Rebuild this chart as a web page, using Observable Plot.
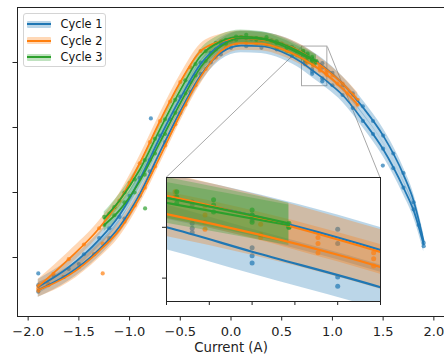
<!DOCTYPE html>
<html><head><meta charset="utf-8">
<script src="https://cdn.jsdelivr.net/npm/d3@7"></script>
<script src="https://cdn.jsdelivr.net/npm/@observablehq/plot@0.6"></script>
<style>
body{margin:0;background:#fff;overflow:hidden;font-family:"DejaVu Sans",sans-serif}
#wrap{position:relative;width:444px;height:357px;overflow:hidden}
#wrap svg{position:absolute;left:0;top:0}
#inset{position:absolute;background:#fff}
#inset svg{position:absolute;left:0;top:0;overflow:visible}
#legend{position:absolute;left:22.5px;top:12.5px;width:83px;height:54px;border:1px solid #d4d4d4;border-radius:3px;background:rgba(255,255,255,0.85);box-sizing:border-box}
.row{position:absolute;left:0;height:14px;width:100%}
.sw{position:absolute;left:3.5px;top:3.5px;width:24px;height:7px;border-radius:1px}
.ln{position:absolute;left:3.5px;top:6px;width:24px;height:2px}
.lab{position:absolute;left:37px;top:0;font-size:11.4px;line-height:14px;color:#111;white-space:nowrap}
</style></head><body><div id="wrap"></div><script>
// ---------- data ----------
const cycles = ["Cycle 1", "Cycle 2", "Cycle 3"];
const colors = ["#1f77b4", "#ff7f0e", "#2ca02c"];
const xTicks = [-2, -1.5, -1, -0.5, 0, 0.5, 1, 1.5, 2];
const yTicks = [3.4, 3.6, 3.8, 4.0];
const xDomain = [-2.105, 2.105];
const yDomain = [3.2185, 4.1692];
const insetXDomain = [0.7, 0.95];
const insetYDomain = [3.927, 4.049];
const insetXTicks = [0.7, 0.75, 0.8, 0.85, 0.9, 0.95];
const insetYTicks = [3.95, 4.0];
const bandHalfWidth = [0.022, 0.022, 0.02];

// fitted curves, two sweeps per cycle: [current, value]
const cycle1Upper = [[-1.9,3.31],[-1.6,3.37],[-1.3,3.455],[-1.1,3.53],[-0.9,3.64],[-0.7,3.77],[-0.5,3.89],[-0.3,3.995],[-0.1,4.055],[0.1,4.075],[0.3,4.072],[0.5,4.058],[0.7,4.03],[0.9,3.99],[1.1,3.935],[1.3,3.862],[1.5,3.775],[1.7,3.655],[1.8,3.575],[1.9,3.45]];
const cycle1Lower = [[-1.9,3.3],[-1.6,3.35],[-1.3,3.425],[-1.1,3.495],[-0.9,3.595],[-0.7,3.725],[-0.5,3.85],[-0.3,3.96],[-0.1,4.03],[0.1,4.052],[0.3,4.05],[0.5,4.033],[0.7,4.0],[0.8,3.976],[0.95,3.941],[1.1,3.9],[1.3,3.822],[1.5,3.733],[1.7,3.615],[1.8,3.545],[1.9,3.44]];
const cycle2Upper = [[-1.9,3.311],[-1.6,3.395],[-1.3,3.49],[-1.1,3.575],[-0.9,3.69],[-0.7,3.82],[-0.5,3.94],[-0.3,4.035],[-0.1,4.065],[0.1,4.075],[0.3,4.07],[0.5,4.058],[0.7,4.031],[0.9,3.988],[1.1,3.935],[1.25,3.885]];
const cycle2Lower = [[-1.9,3.3],[-1.6,3.345],[-1.3,3.42],[-1.1,3.485],[-0.9,3.585],[-0.7,3.71],[-0.5,3.84],[-0.3,3.955],[-0.1,4.035],[0.1,4.06],[0.3,4.058],[0.5,4.042],[0.7,4.013],[0.9,3.973],[1.1,3.92],[1.25,3.87]];
const cycle3Upper = [[-1.25,3.52],[-1.1,3.575],[-0.9,3.67],[-0.7,3.795],[-0.5,3.915],[-0.3,4.02],[-0.1,4.065],[0.1,4.08],[0.3,4.075],[0.5,4.058],[0.7,4.029],[0.843,4.004]];
const cycle3Lower = [[-1.25,3.5],[-1.1,3.545],[-0.9,3.635],[-0.7,3.755],[-0.5,3.875],[-0.3,3.985],[-0.1,4.05],[0.1,4.075],[0.3,4.072],[0.5,4.053],[0.7,4.024],[0.843,4.002]];

// measured points
const cycle1Points = [[-1.9,3.315],[-1.75,3.345],[-1.6,3.365],[-1.45,3.41],[-1.3,3.46],[-1.2,3.49],[-1.1,3.525],[-1.0,3.59],[-0.9,3.645],[-0.8,3.70],[-0.7,3.775],[-0.6,3.825],[-0.5,3.895],[-0.4,3.94],[-0.3,4.0],[-0.2,4.03],[-0.1,4.058],[0.0,4.068],[0.1,4.078],[0.2,4.072],[0.3,4.07],[0.4,4.068],[0.5,4.055],[0.6,4.048],[0.73,4.025],[0.73,4.022],[0.8,4.012],[0.8,4.007],[0.9,3.998],[0.9,3.984],[1.0,3.968],[1.1,3.93],[1.2,3.905],[1.3,3.865],[1.4,3.82],[1.5,3.775],[1.6,3.72],[1.7,3.66],[1.8,3.57],[1.9,3.445],
 [-1.9,3.295],[-1.8,3.318],[-1.65,3.34],[-1.5,3.38],[-1.35,3.41],[-1.2,3.46],[-1.05,3.52],[-0.9,3.59],[-0.8,3.665],[-0.65,3.755],[-0.5,3.845],[-0.4,3.91],[-0.3,3.965],[-0.2,4.0],[-0.1,4.025],[0.0,4.045],[0.15,4.05],[0.3,4.045],[0.45,4.04],[0.6,4.02],[0.73,4.004],[0.73,3.995],[0.73,3.999],[0.8,3.98],[0.8,3.965],[0.8,3.972],[0.9,3.951],[0.9,3.942],[1.0,3.93],[1.1,3.9],[1.2,3.86],[1.3,3.82],[1.4,3.78],[1.5,3.735],[1.6,3.675],[1.7,3.615],[1.8,3.548],[1.85,3.5],[1.9,3.435],
 [-1.9,3.351],[-0.79,3.828],[1.497,3.683]];
const cycle2Points = [[-1.9,3.312],[-1.9,3.305],[-1.75,3.35],[-1.6,3.395],[-1.45,3.44],[-1.3,3.49],[-1.2,3.535],[-1.1,3.575],[-1.0,3.63],[-0.9,3.69],[-0.8,3.755],[-0.7,3.82],[-0.6,3.88],[-0.5,3.94],[-0.4,3.985],[-0.3,4.035],[-0.2,4.05],[-0.1,4.065],[0.0,4.07],[0.1,4.078],[0.2,4.075],[0.3,4.07],[0.4,4.065],[0.5,4.058],[0.6,4.045],[0.71,4.03],[0.71,4.035],[0.745,4.021],[0.745,4.012],[0.81,4.003],[0.81,3.99],[0.877,3.99],[0.877,3.984],[0.942,3.975],[0.942,3.969],[1.0,3.96],[1.1,3.935],[1.2,3.9],[1.25,3.885],
 [-1.9,3.298],[-1.8,3.315],[-1.65,3.34],[-1.5,3.37],[-1.35,3.41],[-1.2,3.455],[-1.05,3.51],[-0.95,3.56],[-0.85,3.615],[-0.75,3.68],[-0.65,3.745],[-0.55,3.81],[-0.45,3.87],[-0.35,3.93],[-0.25,3.98],[-0.15,4.015],[-0.05,4.045],[0.05,4.055],[0.15,4.06],[0.25,4.058],[0.35,4.054],[0.45,4.046],[0.55,4.035],[0.65,4.022],[0.745,4.005],[0.745,3.998],[0.81,3.993],[0.877,3.975],[0.942,3.962],[1.05,3.935],[1.15,3.905],[1.25,3.87],
 [-1.265,3.443],[-1.265,3.351]];
const cycle3Points = [[-1.25,3.525],[-1.15,3.555],[-1.05,3.6],[-0.95,3.64],[-0.85,3.7],[-0.75,3.765],[-0.65,3.825],[-0.55,3.885],[-0.45,3.945],[-0.35,3.995],[-0.25,4.035],[-0.15,4.06],[-0.05,4.07],[0.05,4.08],[0.15,4.085],[0.25,4.075],[0.35,4.078],[0.45,4.065],[0.55,4.05],[0.62,4.042],[0.712,4.03],[0.712,4.035],[0.755,4.027],[0.755,4.022],[0.8,4.017],[0.8,4.012],[0.8,4.005],[0.843,4.004],[0.843,4.0],
 [-1.25,3.5],[-1.15,3.53],[-1.05,3.57],[-0.95,3.6],[-0.85,3.655],[-0.75,3.72],[-0.65,3.78],[-0.55,3.845],[-0.45,3.905],[-0.35,3.96],[-0.25,4.005],[-0.15,4.04],[-0.05,4.058],[0.05,4.07],[0.15,4.075],[0.25,4.07],[0.35,4.07],[0.45,4.06],[0.55,4.045],[0.65,4.035],[0.712,4.024],[0.755,4.015],[0.8,4.01],[0.843,4.0],
 [-0.847,3.551]];

const xLabel = "Current (A)";

// ---------- layout ----------
const W = 444, H = 357;
const mL = 17, mT = 7, mR = 0, mB = 41;
const inset = {left: 165.5, top: 177, width: 214, height: 124};
const bandOpacity = 0.3;

const fits = [[cycle1Upper, cycle1Lower], [cycle2Upper, cycle2Lower], [cycle3Upper, cycle3Lower]];
const points = [cycle1Points, cycle2Points, cycle3Points];

function rows(i) {
  const hw = bandHalfWidth[i];
  const lineRows = [], bandRows = [];
  fits[i].forEach((f, k) => f.forEach(([x, y]) => {
    lineRows.push({key: k, x, y});
    bandRows.push({key: k, x, lo: y - hw, hi: y + hw});
  }));
  return {lineRows, bandRows};
}
// matplotlib-like layering: bands and scatter first (per cycle), lines on top
function allMarks(o) {
  const under = [], over = [];
  colors.forEach((c, i) => {
    const {lineRows, bandRows} = rows(i);
    under.push(
      Plot.areaY(bandRows, {x: "x", y1: "lo", y2: "hi", z: "key", fill: c, fillOpacity: bandOpacity, curve: "monotone-x", clip: o.clip}),
      Plot.dot(points[i], {x: d => d[0], y: d => d[1], r: o.r, fill: c, fillOpacity: 0.7, stroke: "none", clip: o.clip})
    );
    over.push(Plot.line(lineRows, {x: "x", y: "y", z: "key", stroke: c, strokeWidth: o.lw, curve: "monotone-x", clip: o.clip}));
  });
  return [...under, ...over];
}

const xs = d3.scaleLinear().domain(xDomain).range([mL, W - mR]);
const ys = d3.scaleLinear().domain(yDomain).range([H - mB, mT]);
const connectors = [
  {x1: insetXDomain[0], y1: insetYDomain[1], x2: xs.invert(inset.left), y2: ys.invert(inset.top)},
  {x1: insetXDomain[1], y1: insetYDomain[1], x2: xs.invert(inset.left + inset.width), y2: ys.invert(inset.top)}
];

const main = Plot.plot({
  width: W, height: H,
  marginLeft: mL, marginTop: mT, marginRight: mR, marginBottom: mB,
  style: {fontFamily: "DejaVu Sans", fontSize: "13px", color: "#222", background: "transparent", overflow: "visible"},
  x: {domain: xDomain, ticks: xTicks, tickFormat: d3.format(".1f"), tickSize: 4.5, tickPadding: 6, label: null},
  y: {domain: yDomain, ticks: yTicks, tickFormat: () => "", tickSize: 4.5, label: null},
  marks: [
    Plot.link(connectors, {x1: "x1", y1: "y1", x2: "x2", y2: "y2", stroke: "#a8a8a8", strokeWidth: 1}),
    Plot.rect([{}], {x1: insetXDomain[0], x2: insetXDomain[1], y1: insetYDomain[0], y2: insetYDomain[1], fill: "none", stroke: "#a8a8a8", strokeWidth: 1}),
    ...allMarks({lw: 1.7, r: 2.1, clip: false}),
    Plot.frame({stroke: "#222", strokeWidth: 1}),
    Plot.text([xLabel], {text: d => d, frameAnchor: "bottom", dy: 35, fontSize: 13.3, fill: "#222"})
  ]
});

const insetPlot = Plot.plot({
  width: inset.width, height: inset.height,
  margin: 0,
  style: {fontFamily: "DejaVu Sans", fontSize: "10px", color: "#222", background: "#fff", overflow: "visible"},
  x: {domain: insetXDomain, ticks: insetXTicks, tickFormat: () => "", tickSize: 4, label: null},
  y: {domain: insetYDomain, ticks: insetYTicks, tickFormat: () => "", tickSize: 4, label: null},
  marks: [
    ...allMarks({lw: 2.2, r: 2.5, clip: true}),
    Plot.frame({stroke: "#222", strokeWidth: 1})
  ]
});

const wrap = document.getElementById("wrap");
wrap.appendChild(main);
const insetDiv = document.createElement("div");
insetDiv.id = "inset";
Object.assign(insetDiv.style, {left: inset.left + "px", top: inset.top + "px", width: inset.width + "px", height: inset.height + "px"});
insetDiv.appendChild(insetPlot);
wrap.appendChild(insetDiv);

// legend
const leg = document.createElement("div");
leg.id = "legend";
cycles.forEach((name, i) => {
  const row = document.createElement("div");
  row.className = "row";
  row.style.top = (3.5 + i * 16.7) + "px";
  const c = d3.color(colors[i]);
  const band = document.createElement("div");
  band.className = "sw";
  band.style.background = `rgba(${c.r},${c.g},${c.b},0.3)`;
  const ln = document.createElement("div");
  ln.className = "ln";
  ln.style.background = colors[i];
  const lab = document.createElement("div");
  lab.className = "lab";
  lab.textContent = name;
  row.append(band, ln, lab);
  leg.appendChild(row);
});
wrap.appendChild(leg);
</script></body></html>
